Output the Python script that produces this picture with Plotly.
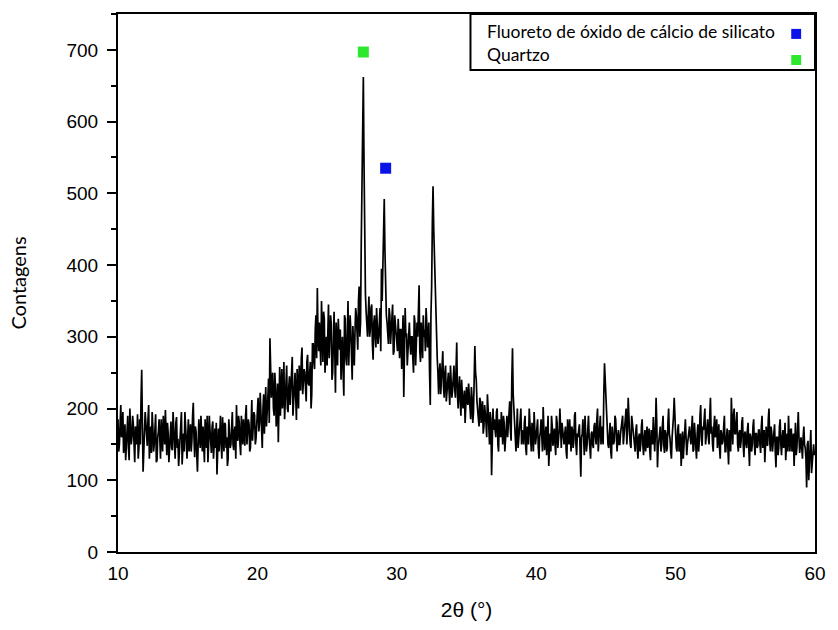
import plotly.graph_objects as go

# Scan grid: readings at whole tenths (10.0 ... 60.0) and at the half steps (10.05 ... 59.95)
start_2theta = 10.0
step_2theta = 0.1

counts_tenths = [
    185,150,205,165,138,178,150,190,128,172,
    160,178,125,168,192,145,150,254,112,162,
    180,148,205,160,138,175,150,192,128,168,
    155,185,140,172,198,135,165,150,182,142,
    170,130,188,158,145,176,122,165,195,150,
    162,140,178,155,208,132,168,112,185,145,
    160,175,125,165,190,148,170,138,182,155,
    145,108,172,166,150,188,140,178,160,130,
    168,150,195,142,175,205,155,180,135,172,
    185,148,205,165,178,145,212,170,190,158,
    195,168,222,175,200,165,230,190,242,298,
    215,250,190,230,205,153,258,235,200,265,
    210,260,195,245,225,272,205,250,184,230,
    260,225,285,240,250,210,275,232,265,220,
    290,255,330,368,280,300,350,265,325,285,
    260,345,290,318,250,335,222,300,325,282,
    240,300,218,325,260,350,285,310,240,295,
    305,330,282,370,320,533,662,411,335,300,
    356,310,345,268,330,285,320,300,340,395,
    411,492,360,320,290,330,305,345,280,315,
    300,325,270,310,290,216,340,305,285,320,
    275,300,250,320,285,300,372,265,305,330,
    310,340,285,320,205,370,510,411,330,270,
    220,263,245,280,215,260,230,250,205,240,
    225,260,215,292,200,245,190,225,210,180,
    230,205,220,185,215,195,287,240,200,175,
    210,190,165,205,180,220,170,195,107,200,
    185,160,200,140,175,195,150,180,165,190,
    175,210,155,284,190,160,185,145,175,200,
    170,150,190,135,165,200,155,180,140,172,
    160,185,130,168,150,202,142,175,158,120,
    165,190,148,172,135,180,155,200,145,168,
    150,175,130,165,185,140,170,155,195,135,
    160,178,105,165,150,190,140,172,160,130,
    168,145,180,150,200,165,190,175,150,263,
    215,170,145,180,130,165,155,185,140,170,
    150,175,190,160,185,150,215,165,145,175,
    160,140,178,130,165,150,185,135,170,155,
    145,172,128,160,188,140,215,118,155,175,
    150,190,138,165,145,200,158,130,172,215,
    165,140,178,152,120,168,145,185,135,160,
    175,150,190,142,165,130,178,155,205,148,
    170,200,160,185,150,215,175,140,190,165,
    145,178,130,165,155,190,140,172,122,160,
    215,150,200,165,195,140,170,155,188,132,
    168,145,180,120,160,150,185,135,165,148,
    170,138,190,155,125,175,148,200,140,165,
    150,178,118,160,145,185,135,170,155,128,
    165,190,140,172,150,120,180,145,195,138,
    160,130,175,145,90,155,120,170,125,150,
    140,
]

counts_half = [
    140,182,160,195,150,128,170,145,200,150,
    190,140,175,150,130,185,210,180,140,195,
    160,185,130,175,195,140,180,125,160,185,
    130,165,190,150,145,180,125,170,145,195,
    150,180,145,120,170,195,150,140,175,130,
    185,155,140,190,160,175,135,150,160,190,
    140,150,185,145,125,190,150,175,130,172,
    180,150,140,190,130,165,180,145,120,185,
    145,185,150,170,130,160,190,150,190,150,
    160,190,150,185,140,200,155,195,150,175,
    215,180,195,145,220,190,175,215,180,260,
    240,200,250,175,235,210,190,255,220,185,
    240,200,230,205,265,190,230,215,255,200,
    235,270,220,255,215,265,235,250,200,290,
    265,310,270,300,320,260,300,335,250,300,
    310,270,330,240,300,280,320,260,290,310,
    280,250,330,270,300,260,330,270,315,260,
    340,290,350,300,430,600,540,360,310,330,
    300,340,290,320,300,340,290,330,280,350,
    450,420,330,295,340,290,320,275,330,300,
    280,300,310,255,330,280,300,260,310,290,
    300,270,330,260,320,345,280,320,270,300,
    280,320,300,250,330,460,450,360,300,250,
    250,220,270,230,250,210,240,225,260,215,
    240,230,255,220,230,210,240,200,225,205,
    210,235,200,230,180,240,250,210,190,215,
    180,210,175,195,160,200,150,185,140,170,
    170,195,150,185,160,170,190,140,175,160,
    195,170,240,220,175,140,200,165,185,150,
    160,180,145,175,150,185,140,170,195,150,
    175,145,160,185,140,175,160,135,190,150,
    140,175,160,150,190,145,170,165,180,150,
    165,140,185,150,160,175,145,190,150,165,
    170,140,160,185,135,165,150,190,140,165,
    150,175,160,185,140,180,150,165,220,240,
    180,150,165,140,175,150,190,145,160,150,
    165,185,150,175,200,170,180,150,190,160,
    150,170,145,160,140,175,150,160,140,175,
    160,140,170,150,145,165,180,145,170,140,
    175,150,170,140,180,165,140,160,190,165,
    145,170,140,165,150,130,175,160,150,175,
    160,170,140,180,150,165,140,190,160,175,
    185,150,175,160,190,165,150,175,160,185,
    160,145,170,150,175,140,160,145,170,140,
    175,190,165,180,150,165,145,180,150,165,
    150,170,145,165,140,175,150,165,145,170,
    150,175,145,170,160,150,185,155,175,140,
    165,140,160,135,175,150,160,145,180,150,
    140,160,170,140,165,150,135,170,160,150,
    145,160,150,130,150,100,145,110,150,135,
]

two_theta_tenths = [round(start_2theta + step_2theta * i, 2) for i in range(len(counts_tenths))]
two_theta_half = [round(start_2theta + step_2theta * (i + 0.5), 2) for i in range(len(counts_half))]

pairs = sorted(zip(two_theta_tenths + two_theta_half, counts_tenths + counts_half))
two_theta = [p[0] for p in pairs]
counts = [p[1] for p in pairs]

# Phase markers
phase_names = ["Fluoreto de óxido de cálcio de silicato", "Quartzo"]
phase_colors = ["#0a14e6", "#2ee82e"]
phase_x = [29.2, 27.6]
phase_y = [535, 697]

x_ticks = [10, 20, 30, 40, 50, 60]
y_ticks = [0, 100, 200, 300, 400, 500, 600, 700]

fig = go.Figure()
fig.add_trace(go.Scatter(x=two_theta, y=counts, mode="lines",
                         line=dict(color="black", width=1.7), showlegend=False,
                         hoverinfo="skip"))
for name, col, px, py in zip(phase_names, phase_colors, phase_x, phase_y):
    fig.add_trace(go.Scatter(x=[px], y=[py], mode="markers", name=name,
                             marker=dict(symbol="square", size=11, color=col),
                             showlegend=False))

# Legend box (drawn manually, symbols on the right)
fig.add_shape(type="rect", xref="paper", yref="paper", x0=0.5057, x1=1.0,
              y0=0.896, y1=1.0, line=dict(color="black", width=2),
              fillcolor="white", layer="above")
leg_y = [0.963, 0.9145]
leg_text_y = [0.967, 0.925]
for name, col, ly, ty in zip(phase_names, phase_colors, leg_y, leg_text_y):
    fig.add_annotation(xref="paper", yref="paper", x=0.5265, y=ty,
                       text=name, showarrow=False, xanchor="left", yanchor="middle",
                       font=dict(family="Lato, Open Sans, sans-serif", size=17.5, color="black"))
    fig.add_shape(type="rect", xref="paper", yref="paper",
                  x0=0.973 - 0.0071, x1=0.973 + 0.0071,
                  y0=ly - 0.0093, y1=ly + 0.0093,
                  line=dict(width=0), fillcolor=col, layer="above")

fig.update_layout(
    width=838, height=630,
    margin=dict(l=118, r=14, t=14, b=78),
    plot_bgcolor="white", paper_bgcolor="white",
    font=dict(family="Liberation Sans, Arial, sans-serif", color="black"),
)
fig.update_xaxes(range=[10, 60], tickvals=x_ticks, ticks="", showgrid=False,
                 zeroline=False, showline=True, linecolor="black", linewidth=2,
                 mirror=True, tickfont=dict(family="Liberation Sans, Arial, sans-serif", size=19),
                 ticklabelstandoff=3,
                 title=dict(text="2θ (°)", font=dict(family="Liberation Sans, Arial, sans-serif", size=21),
                            standoff=20))
fig.update_yaxes(range=[0, 750], tickvals=y_ticks, ticks="outside", ticklen=9,
                 tickwidth=2, tickcolor="black", showgrid=False, zeroline=False,
                 showline=True, linecolor="black", linewidth=2, mirror=True,
                 tickfont=dict(family="Liberation Sans, Arial, sans-serif", size=19),
                 ticklabelstandoff=5,
                 minor=dict(dtick=50, ticks="outside", ticklen=5, tickwidth=2,
                            tickcolor="black", showgrid=False),
                 title=dict(text="Contagens", font=dict(family="Lato, Open Sans, sans-serif", size=20),
                            standoff=34))

fig.write_html("out.html")
